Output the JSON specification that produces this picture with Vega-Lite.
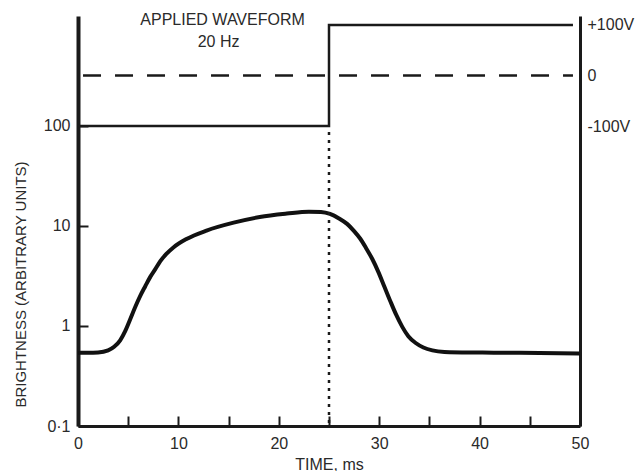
{
  "$schema": "https://vega.github.io/schema/vega-lite/v6.json",
  "width": 502,
  "height": 410,
  "autosize": {"type": "none"},
  "padding": {"left": 78, "top": 16, "right": 59, "bottom": 45},
  "background": "white",
  "config": {
    "view": {"stroke": null},
    "font": "Liberation Sans",
    "axis": {"grid": false, "labelFont": "Liberation Sans", "titleFont": "Liberation Sans", "labelColor": "#2a2a2a", "titleColor": "#2a2a2a", "titleFontWeight": "normal"}
  },
  "datasets": {
    "brightness": [
      {"t": 0, "b": 0.54}, {"t": 1, "b": 0.54}, {"t": 2, "b": 0.543}, {"t": 3, "b": 0.57},
      {"t": 3.6, "b": 0.62}, {"t": 4.2, "b": 0.72}, {"t": 4.7, "b": 0.89}, {"t": 5.2, "b": 1.17},
      {"t": 5.7, "b": 1.55}, {"t": 6.2, "b": 2.0}, {"t": 6.7, "b": 2.5}, {"t": 7.2, "b": 3.1},
      {"t": 7.7, "b": 3.7}, {"t": 8.2, "b": 4.45}, {"t": 8.8, "b": 5.25}, {"t": 9.5, "b": 6.1},
      {"t": 10.8, "b": 7.4}, {"t": 12.8, "b": 9.0}, {"t": 15.5, "b": 10.8}, {"t": 18.1, "b": 12.3},
      {"t": 20.8, "b": 13.3}, {"t": 23.0, "b": 13.9}, {"t": 24.2, "b": 13.8}, {"t": 25.1, "b": 13.2},
      {"t": 26.0, "b": 11.9}, {"t": 26.8, "b": 10.5}, {"t": 27.5, "b": 8.9}, {"t": 28.1, "b": 7.5},
      {"t": 28.7, "b": 6.0}, {"t": 29.3, "b": 4.7}, {"t": 29.9, "b": 3.5}, {"t": 30.5, "b": 2.5},
      {"t": 31.1, "b": 1.78}, {"t": 31.7, "b": 1.29}, {"t": 32.3, "b": 0.98}, {"t": 32.9, "b": 0.79},
      {"t": 33.6, "b": 0.68}, {"t": 34.4, "b": 0.61}, {"t": 35.3, "b": 0.57}, {"t": 36.5, "b": 0.55},
      {"t": 39, "b": 0.543}, {"t": 44, "b": 0.54}, {"t": 50, "b": 0.53}
    ],
    "waveform": [
      {"i": 0, "t": 0, "v": -100}, {"i": 1, "t": 25, "v": -100},
      {"i": 2, "t": 25, "v": 100}, {"i": 3, "t": 49.3, "v": 100}
    ],
    "zero": [{"t": 0.5, "v": 0}, {"t": 49.3, "v": 0}],
    "marker": [{"t": 25, "v": -112, "v2": -694}],
    "notes": [
      {"t": 14.4, "v": 110, "label": "APPLIED WAVEFORM"},
      {"t": 14.0, "v": 66, "label": "20 Hz"}
    ]
  },
  "encoding": {
    "x": {
      "field": "t", "type": "quantitative",
      "scale": {"domain": [0, 50], "nice": false, "zero": false},
      "axis": {
        "title": "TIME, ms", "values": [0, 5, 10, 15, 20, 25, 30, 35, 40, 45, 50],
        "labelExpr": "datum.value % 10 == 0 ? datum.label : ''",
        "tickSize": -10, "tickWidth": 2, "tickColor": "#1a1a1a",
        "domainWidth": 3, "domainColor": "#1a1a1a",
        "labelFontSize": 16, "labelPadding": 19, "labelFlush": false,
        "titleFontSize": 16, "titleY": 38, "titleBaseline": "middle"
      }
    }
  },
  "layer": [
    {
      "data": {"name": "brightness"},
      "mark": {"type": "line", "interpolate": "monotone", "color": "#111", "strokeWidth": 4},
      "encoding": {
        "y": {
          "field": "b", "type": "quantitative",
          "scale": {"type": "log", "domain": [0.1, 1258.9], "nice": false},
          "axis": {
            "orient": "left",
            "title": "BRIGHTNESS (ARBITRARY UNITS)",
            "values": [0.1, 1, 10, 100],
            "labelExpr": "datum.value == 0.1 ? '0·1' : datum.label",
            "tickSize": -10, "tickWidth": 2, "tickColor": "#1a1a1a",
            "domainWidth": 4, "domainColor": "#1a1a1a",
            "labelFontSize": 16, "labelPadding": 18, "labelFlush": false,
            "titleFontSize": 15, "titleAngle": 270, "titleBaseline": "middle",
            "titleX": -58, "titleY": 268
          }
        }
      }
    },
    {
      "layer": [
        {
          "data": {"name": "waveform"},
          "mark": {"type": "line", "color": "#1a1a1a", "strokeWidth": 2.5},
          "encoding": {
            "y": {"field": "v", "type": "quantitative"},
            "order": {"field": "i"}
          }
        },
        {
          "data": {"name": "zero"},
          "mark": {"type": "line", "color": "#1a1a1a", "strokeWidth": 2.5, "strokeDash": [18, 14]},
          "encoding": {
            "y": {"field": "v", "type": "quantitative"}
          }
        },
        {
          "data": {"name": "marker"},
          "mark": {"type": "rule", "color": "#1a1a1a", "strokeWidth": 2.5, "strokeDash": [3, 5]},
          "encoding": {
            "y": {"field": "v", "type": "quantitative"},
            "y2": {"field": "v2"}
          }
        },
        {
          "data": {"name": "notes"},
          "mark": {"type": "text", "fontSize": 16, "color": "#2a2a2a", "align": "center", "baseline": "middle", "font": "Liberation Sans"},
          "encoding": {
            "y": {"field": "v", "type": "quantitative"},
            "text": {"field": "label"}
          }
        }
      ],
      "encoding": {
        "y": {
          "field": "v", "type": "quantitative",
          "scale": {"domain": [-694, 117.8], "nice": false, "zero": false},
          "axis": {
            "orient": "right", "title": null,
            "values": [-100, 0, 100],
            "labelExpr": "datum.value > 0 ? '+100V' : (datum.value == 0 ? '0' : '-100V')",
            "ticks": false, "tickSize": 0,
            "domainWidth": 3, "domainColor": "#1a1a1a",
            "labelFontSize": 16, "labelPadding": 7, "labelFlush": false
          }
        }
      }
    }
  ],
  "resolve": {"scale": {"y": "independent"}}
}
